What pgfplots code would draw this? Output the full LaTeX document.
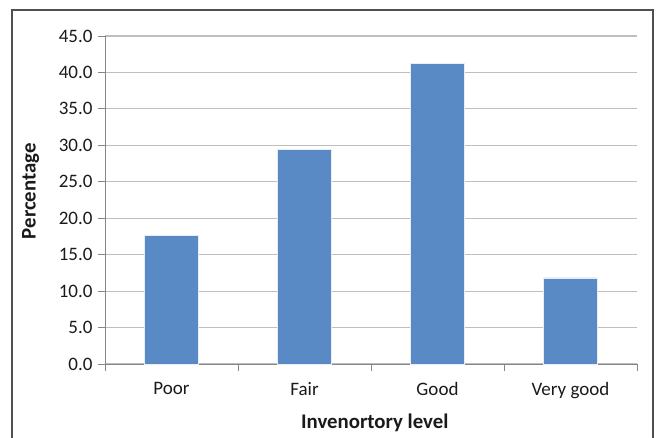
\documentclass[border=0pt]{standalone}
\usepackage{fontspec}
\setmainfont{Carlito}
\usepackage{pgfplots}
\pgfplotsset{compat=1.18}
\definecolor{barblue}{HTML}{5A8AC6}
\definecolor{gridgray}{HTML}{BEBEBE}
\definecolor{axisgray}{HTML}{868686}
\definecolor{framegray}{HTML}{505050}
\definecolor{txt}{HTML}{1A1A1A}
\begin{document}
\begin{tikzpicture}[x=1pt,y=1pt]
  \useasboundingbox (0,0) rectangle (660,437);
  % outer chart frame (bottom edge falls outside the page)
  \draw[framegray, line width=1.2pt] (12,-5) -- (12,427) -- (653,427) -- (653,-5);
  \begin{axis}[
    at={(105pt,73pt)}, anchor=south west,
    scale only axis, width=532pt, height=328pt,
    xmin=0, xmax=4, ymin=0, ymax=45,
    axis x line*=bottom, axis y line*=left,
    axis line style={axisgray, line width=1pt, -},
    ytick={0,5,...,45},
    ymajorgrids, grid style={gridgray, line width=1.2pt},
    /pgf/number format/fixed,
    /pgf/number format/fixed zerofill,
    /pgf/number format/precision=1,
    /pgf/number format/assume math mode=true,
    tick style={axisgray, line width=1pt},
    tick align=outside,
    major tick length=7pt,
    xtick={0,1,2,3,4}, xticklabels={},
    extra x ticks={0.5,1.5,2.5,3.5},
    extra x tick labels={Poor,Fair,Good,Very good},
    extra x tick style={major tick length=0pt, xticklabel style={yshift=-15pt}},
    ticklabel style={font=\fontsize{19}{22}\selectfont, text=txt},
    yticklabel style={xshift=-2pt},
    xlabel={\textbf{Invenortory level}},
    ylabel={\textbf{Percentage}},
    label style={font=\fontsize{20.8}{24}\selectfont, text=txt},
    xlabel style={at={(axis description cs:0.507,-0.1798)}, anchor=center},
    ylabel style={at={(axis description cs:-0.140,0.527)}, anchor=center},
    clip=false,
  ]
    \addplot[ybar, bar width=53.6pt, fill=barblue, draw=white!85!barblue, line width=0.6pt]
      coordinates {(0.5,17.6) (1.5,29.4) (2.5,41.2) (3.5,11.8)};
  \end{axis}
\end{tikzpicture}
\end{document}
